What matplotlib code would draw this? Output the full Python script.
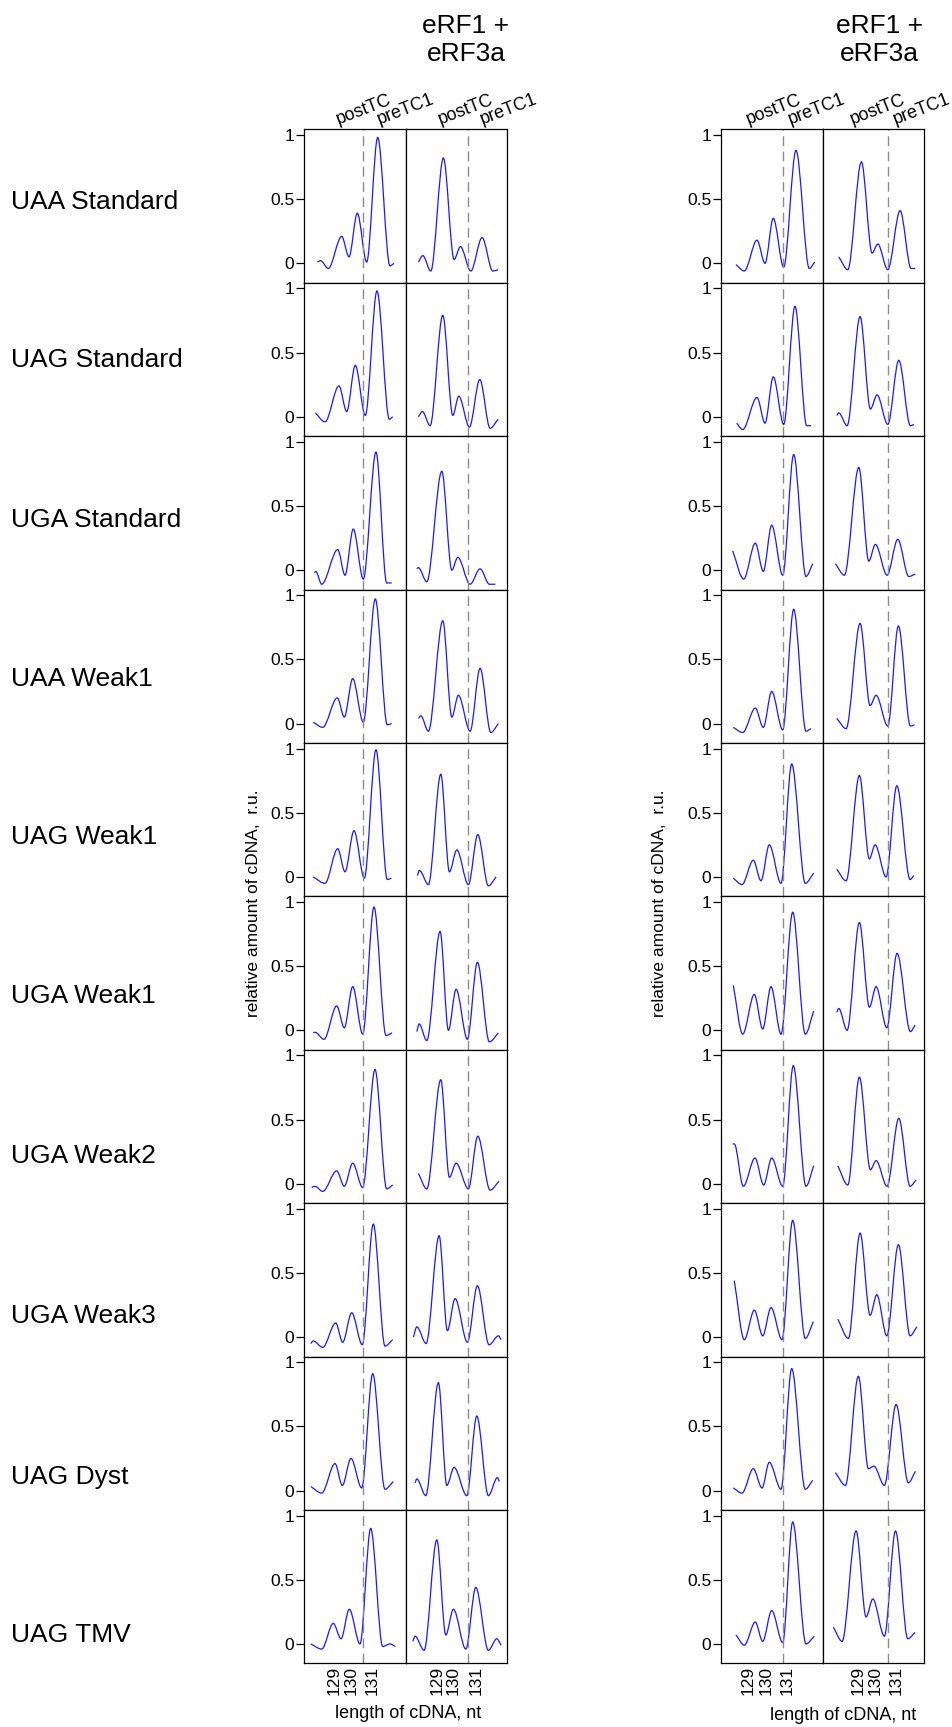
"""Capillary electrophoresis traces: eRF1 + eRF3a termination, two gel sets side by side."""
import matplotlib

matplotlib.use("Agg")
import matplotlib.pyplot as plt
from matplotlib.patches import PathPatch
from matplotlib.path import Path
from matplotlib.transforms import blended_transform_factory

plt.rcParams["font.family"] = ["Liberation Sans", "DejaVu Sans"]

W, H = 952, 1727

ROW_LABELS = ["UAA Standard", "UAG Standard", "UGA Standard", "UAA Weak1", "UAG Weak1",
              "UGA Weak1", "UGA Weak2", "UGA Weak3", "UAG Dyst", "UAG TMV"]
ROW_LABEL_Y = [201.6, 360.3, 520.1, 678.8, 837.4, 996.1, 1155.9, 1315.6, 1476.6, 1635.2]
HEADER = "eRF1 +\neRF3a"
X_TICK_LABELS = ["129", "130", "131"]
Y_TICKS = [0, 0.5, 1]
Y_TICK_LABELS = ["0", "0.5", "1"]

# trace extrema (position across the lane, relative amount), row by row
LEFT_A = [
    [(13.0, 0.01), (16.4, 0.02), (24, -0.04), (37.4, 0.21), (44.7, 0.05), (53, 0.39), (62.4, 0.01), (73.4, 0.98), (85.7, -0.02), (89.7, 0.0)],
    [(11, 0.03), (20.7, -0.04), (34.7, 0.24), (42.4, 0.04), (51, 0.40), (61, 0.01), (72.7, 0.98), (85, -0.02), (88.4, 0.0)],
    [(10, -0.02), (11.5, -0.01), (17.4, -0.11), (33.4, 0.16), (40.7, -0.04), (49, 0.32), (59, -0.07), (71.7, 0.92), (82.4, -0.10), (87.4, -0.10)],
    [(9, 0.01), (18.4, -0.03), (33, 0.20), (40, 0.05), (48.4, 0.35), (59, 0.01), (71, 0.97), (83, -0.01), (87.4, 0.0)],
    [(9, 0.0), (20.7, -0.05), (33.4, 0.22), (40.7, 0.04), (49.7, 0.36), (60, -0.01), (71.7, 0.99), (83, -0.02), (87, -0.01)],
    [(9, -0.02), (10.7, -0.015), (19.7, -0.07), (32.4, 0.19), (40, 0.02), (48.4, 0.34), (58.4, -0.03), (69.7, 0.96), (81.7, -0.04), (87.7, -0.02)],
    [(7.4, -0.03), (10.7, -0.02), (18.4, -0.06), (32.4, 0.10), (40, -0.02), (48.4, 0.16), (58.4, -0.03), (70.7, 0.89), (82.4, -0.04), (88.4, -0.01)],
    [(6.4, -0.05), (9, -0.03), (18.4, -0.08), (31.4, 0.11), (38.4, -0.04), (47.4, 0.19), (58, -0.06), (69, 0.88), (80.7, -0.07), (88.4, -0.02)],
    [(6.7, 0.03), (17.4, -0.02), (30.7, 0.21), (38, 0.04), (46.7, 0.25), (57.4, 0.02), (68.4, 0.91), (80.7, 0.01), (89, 0.07)],
    [(6.4, 0.0), (17.4, -0.04), (29, 0.16), (36.7, 0.04), (45, 0.27), (55.7, 0.0), (66.4, 0.90), (78.4, -0.02), (85.7, 0.0), (91, -0.02)],
]
LEFT_B = [
    [(12.6, 0.01), (17, 0.06), (25, -0.06), (37.6, 0.82), (48.3, 0.03), (54.6, 0.13), (65, -0.06), (76.3, 0.20), (87, -0.06), (92.3, -0.05)],
    [(12.6, 0.0), (16.6, 0.04), (24.3, -0.07), (37, 0.79), (47, 0.01), (53, 0.16), (63.6, -0.08), (74, 0.29), (84.3, -0.09), (92.3, -0.02)],
    [(11, 0.01), (12.5, 0.02), (21, -0.09), (36, 0.77), (46, 0.0), (52, 0.10), (64.3, -0.11), (74.3, 0.01), (83.6, -0.11), (89.6, -0.11)],
    [(12.6, 0.04), (15, 0.06), (22.6, -0.06), (37, 0.80), (46, 0.05), (52.6, 0.22), (64.3, -0.06), (74.3, 0.43), (85, -0.07), (92.6, 0.0)],
    [(11.6, 0.01), (13.6, 0.05), (22.6, -0.06), (35, 0.80), (43.6, 0.04), (51, 0.21), (62.6, -0.06), (72, 0.33), (82.6, -0.07), (90.3, 0.0)],
    [(11, -0.01), (13.3, 0.05), (21, -0.08), (34.3, 0.77), (42.6, 0.0), (50.3, 0.32), (61.6, -0.07), (71.6, 0.53), (83.6, -0.09), (92.6, -0.02)],
    [(12.6, 0.08), (21, -0.04), (35, 0.81), (43.6, 0.05), (50.3, 0.16), (62.6, -0.04), (72, 0.37), (84.3, -0.05), (93.3, 0.02)],
    [(7.6, 0.0), (11, 0.08), (20.3, -0.05), (33.3, 0.79), (41.6, 0.05), (49.3, 0.30), (61.6, -0.04), (71.6, 0.40), (83.3, -0.06), (92.6, 0.01), (95.3, -0.02)],
    [(9.3, 0.06), (11, 0.09), (20, -0.04), (32.6, 0.84), (41, 0.04), (48.3, 0.18), (61, -0.04), (71, 0.58), (82.6, -0.04), (91.6, 0.10), (93.6, 0.07)],
    [(7, 0.02), (9.3, 0.06), (18.3, -0.05), (31, 0.81), (40, 0.07), (47.6, 0.27), (60, -0.04), (70, 0.44), (82.6, -0.05), (91, 0.04), (95.3, -0.01)],
]
RIGHT_A = [
    [(14.7, -0.01), (23, -0.06), (35.7, 0.18), (43.7, 0.0), (52, 0.35), (62.4, -0.03), (74.7, 0.88), (88, -0.04), (93.4, 0.01)],
    [(15.4, -0.05), (21.4, -0.10), (35.7, 0.15), (43.7, -0.05), (52, 0.31), (62.4, -0.06), (73.7, 0.86), (85.4, -0.07), (89.7, -0.07)],
    [(11.4, 0.15), (22.4, -0.07), (34, 0.21), (42, -0.01), (50.4, 0.35), (61.4, -0.04), (72.4, 0.90), (84.7, -0.05), (91.4, 0.05)],
    [(12, -0.03), (21.4, -0.07), (34, 0.12), (42, -0.03), (50.4, 0.25), (61.4, -0.05), (72.4, 0.89), (84.7, -0.06), (89.7, -0.04)],
    [(12, -0.01), (20.7, -0.06), (32, 0.13), (39.7, -0.03), (48, 0.25), (59.7, -0.05), (70.4, 0.88), (84, -0.05), (92.4, 0.03)],
    [(12, 0.35), (21.4, -0.03), (33, 0.28), (41.4, 0.01), (49.7, 0.34), (59.7, -0.03), (71.4, 0.92), (84, -0.03), (92.4, 0.15)],
    [(11.4, 0.31), (13, 0.31), (22, -0.02), (33.7, 0.20), (42.4, -0.01), (50.4, 0.20), (61.4, -0.02), (72, 0.92), (84.7, -0.02), (92.4, 0.14)],
    [(13, 0.44), (23, -0.02), (33, 0.21), (41.4, 0.01), (49.7, 0.23), (60.7, -0.02), (71.4, 0.91), (84, -0.01), (92, 0.12)],
    [(12, 0.02), (20.7, -0.02), (32, 0.17), (40.7, 0.02), (48, 0.22), (59.7, 0.01), (70.4, 0.95), (84, 0.01), (91.4, 0.08)],
    [(14.7, 0.07), (23, -0.01), (34, 0.17), (41.4, 0.02), (50.4, 0.26), (61.4, 0.01), (71.4, 0.95), (84.7, 0.0), (93, 0.06)],
]
RIGHT_B = [
    [(16, 0.05), (25, -0.05), (38.6, 0.79), (49.3, 0.08), (55, 0.15), (65, -0.05), (77.3, 0.41), (88.3, -0.04), (92.3, -0.04)],
    [(14, 0.01), (16, 0.03), (24.3, -0.07), (37.3, 0.78), (47.6, 0.06), (54.3, 0.17), (65, -0.06), (76, 0.44), (87.6, -0.07), (91, -0.06)],
    [(12.6, 0.05), (21.6, -0.04), (36, 0.80), (46, 0.07), (52.6, 0.20), (64.3, -0.04), (75, 0.24), (86, -0.05), (92.6, -0.03)],
    [(14, 0.04), (23.3, -0.04), (37.3, 0.78), (47.3, 0.14), (53.3, 0.22), (65, -0.02), (75.6, 0.76), (87.6, -0.02), (91.6, -0.01)],
    [(14, 0.06), (23.3, -0.03), (36.6, 0.79), (46.6, 0.14), (52.3, 0.25), (63.3, 0.0), (74, 0.71), (87.3, -0.02), (91, 0.01)],
    [(14, 0.14), (16, 0.17), (24.3, 0.0), (36.6, 0.84), (46.6, 0.18), (53.3, 0.34), (64, 0.02), (74.3, 0.60), (87.6, -0.01), (92.3, 0.04)],
    [(15, 0.14), (25, -0.01), (36.6, 0.83), (47.6, 0.11), (53.3, 0.18), (64.3, -0.02), (76, 0.51), (87.3, -0.02), (93.3, 0.03)],
    [(15, 0.14), (25.6, -0.01), (37.3, 0.81), (47.3, 0.17), (54, 0.33), (64, 0.01), (75.6, 0.72), (87.3, 0.01), (94, 0.08)],
    [(12.6, 0.14), (22.6, 0.04), (35.6, 0.89), (45.6, 0.17), (51, 0.19), (61.6, 0.04), (73.3, 0.67), (85.6, 0.06), (92.6, 0.15)],
    [(10.6, 0.13), (19.3, 0.02), (33.3, 0.88), (43.3, 0.21), (50, 0.35), (61.6, 0.06), (72.7, 0.88), (85, 0.04), (92.3, 0.09)],
]
TRACES = [[LEFT_A, LEFT_B], [RIGHT_A, RIGHT_B]]

# per group, per panel: postTC / preTC1 boundary, tick label spots, column label spots
DASH_U = [[58.5, 62.6], [61.2, 64.8]]
TICK_U = [[[30, 46.7, 68], [31, 47.6, 70.3]], [[27, 44.7, 66], [35, 52.3, 73.3]]]
POST_U = [[29, 30], [22.5, 24.5]]
PRE_U = [[70, 72], [64, 68]]

# layout, in pixels of the final image
GROUP_X = [304.3, 721.3]
PANEL_W, ROW_TOP, ROW_H = 101.5, 129.3, 153.4
YLIM = (-0.151, 1.044)
HEADER_X = [466, 879]
YLABEL_X = [253.4, 659]
XLABEL_XY = [(408.3, 1713), (843.3, 1715)]

BLUE = "#1a1aff"
GREY = "#8c8c8c"


def trace_path(pts):
    # cubic pieces between read extrema, flat at each turning point
    verts, codes = [pts[0]], [Path.MOVETO]
    n = len(pts)
    for i in range(n - 1):
        (x0, y0), (x1, y1) = pts[i], pts[i + 1]
        dx = (x1 - x0) / 3
        c1y = y0 + (y1 - y0) / 3 if i == 0 else y0
        c2y = y1 - (y1 - y0) / 3 if i == n - 2 else y1
        verts += [(x0 + dx, c1y), (x1 - dx, c2y), (x1, y1)]
        codes += [Path.CURVE4] * 3
    return Path(verts, codes)


def add_px_axes(fig, x, y, w, h):
    return fig.add_axes([x / W, 1 - (y + h) / H, w / W, h / H])


fig = plt.figure(figsize=(W / 100, H / 100), dpi=100)

for g in range(2):
    for r in range(len(ROW_LABELS)):
        for p in range(2):
            ax = add_px_axes(fig, GROUP_X[g] + p * PANEL_W, ROW_TOP + r * ROW_H, PANEL_W, ROW_H)
            ax.set_xlim(0, PANEL_W)
            ax.set_ylim(*YLIM)
            for s in ax.spines.values():
                s.set_linewidth(0.9)
                s.set_color("black")
            ax.axvline(DASH_U[g][p], color=GREY, lw=1.0, dashes=(7, 4))
            ax.add_patch(PathPatch(trace_path(TRACES[g][p][r]), fill=False,
                                   edgecolor=BLUE, lw=0.9))
            if p == 0:
                ax.set_yticks(Y_TICKS, Y_TICK_LABELS, fontsize=12.5)
                ax.tick_params(axis="y", direction="out", length=5.8, width=0.9, pad=1.5)
            else:
                ax.set_yticks([])
            if r == len(ROW_LABELS) - 1:
                ax.set_xticks(TICK_U[g][p], X_TICK_LABELS, rotation=90, fontsize=12.5)
                ax.tick_params(axis="x", length=0, pad=2)
            else:
                ax.set_xticks([])
            if r == 0:
                tr = blended_transform_factory(ax.transData, ax.transAxes)
                ax.text(POST_U[g][p], 1.01, "postTC", transform=tr, rotation=21,
                        ha="left", va="bottom", fontsize=13)
                ax.text(PRE_U[g][p], 1.01, "preTC1", transform=tr, rotation=21,
                        ha="left", va="bottom", fontsize=13)

    fig.text(HEADER_X[g] / W, 1 - 40 / H, HEADER, ha="center", va="center",
             fontsize=19, linespacing=1.2)
    fig.text(YLABEL_X[g] / W, 1 - 903.6 / H, "relative amount of cDNA,  r.u.",
             rotation=90, ha="center", va="center", fontsize=12.5)
    fig.text(XLABEL_XY[g][0] / W, 1 - XLABEL_XY[g][1] / H, "length of cDNA, nt",
             ha="center", va="center", fontsize=13)

for label, y in zip(ROW_LABELS, ROW_LABEL_Y):
    fig.text(11 / W, 1 - y / H, label, ha="left", va="center", fontsize=19)

fig.savefig("out.png", dpi=100)
